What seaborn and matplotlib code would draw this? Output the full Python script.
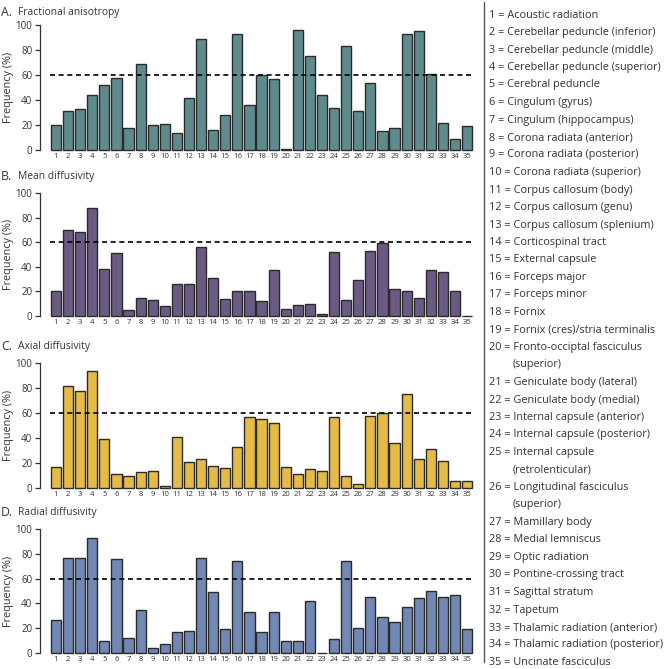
import textwrap
import numpy as np
import pandas as pd
import matplotlib
matplotlib.use("Agg")
import matplotlib.pyplot as plt
from matplotlib.lines import Line2D
import seaborn as sns

# tract names (numbered 1..35)
tracts = [
    "Acoustic radiation", "Cerebellar peduncle (inferior)", "Cerebellar peduncle (middle)",
    "Cerebellar peduncle (superior)", "Cerebral peduncle", "Cingulum (gyrus)",
    "Cingulum (hippocampus)", "Corona radiata (anterior)", "Corona radiata (posterior)",
    "Corona radiata (superior)", "Corpus callosum (body)", "Corpus callosum (genu)",
    "Corpus callosum (splenium)", "Corticospinal tract", "External capsule",
    "Forceps major", "Forceps minor", "Fornix", "Fornix (cres)/stria terminalis",
    "Fronto-occiptal fasciculus (superior)", "Geniculate body (lateral)",
    "Geniculate body (medial)", "Internal capsule (anterior)", "Internal capsule (posterior)",
    "Internal capsule (retrolenticular)", "Longitudinal fasciculus (superior)",
    "Mamillary body", "Medial lemniscus", "Optic radiation", "Pontine-crossing tract",
    "Sagittal stratum", "Tapetum", "Thalamic radiation (anterior)",
    "Thalamic radiation (posterior)", "Uncinate fasciculus",
]
tract_ids = [str(i) for i in range(1, 36)]

fa = [20, 31, 33, 44, 52, 58, 18, 69, 20, 21, 14, 42, 89, 16, 28, 93, 36, 60, 57, 1,
      96, 75, 44, 34, 83, 31, 54, 15, 18, 93, 95, 61, 22, 9, 19]
md = [20, 70, 68, 88, 38, 51, 5, 15, 13, 8, 26, 26, 56, 31, 14, 20, 20, 12, 37, 6,
      9, 10, 2, 52, 13, 29, 53, 59, 22, 20, 15, 37, 36, 20, 0]
ad = [17, 82, 78, 94, 39, 11, 10, 13, 14, 2, 41, 21, 23, 18, 16, 33, 57, 55, 52, 17,
      11, 15, 14, 57, 10, 3, 58, 60, 36, 75, 23, 31, 22, 6, 6]
rd = [27, 77, 77, 93, 10, 76, 12, 35, 4, 7, 17, 18, 77, 49, 19, 74, 33, 17, 33, 10,
      10, 42, 0, 11, 74, 20, 45, 29, 25, 37, 44, 50, 45, 47, 19]

panel_letters = ["A.", "B.", "C.", "D."]
panel_titles = ["Fractional anisotropy", "Mean diffusivity", "Axial diffusivity", "Radial diffusivity"]
panel_values = [fa, md, ad, rd]
panel_colors = ["#5f8a8e", "#6b5a83", "#e6bb45", "#7187b4"]
threshold = 60

sns.set_style("white")
plt.rcParams["font.family"] = ["Open Sans", "DejaVu Sans"]

W, H = 667, 669
fig = plt.figure(figsize=(W / 100, H / 100), dpi=100)

# (top, bottom) pixel rows of each panel's 100..0 range, and title row
panel_rows = [(25, 150), (193, 316), (363, 488), (529, 653)]
title_rows = [12, 177, 347, 513]
ax_left, ax_right = 40, 478
txt_col = "#333333"

for letter, title, vals, color, (top, bot), ty in zip(
        panel_letters, panel_titles, panel_values, panel_colors, panel_rows, title_rows):
    ax = fig.add_axes([ax_left / W, 1 - bot / H, (ax_right - ax_left) / W, (bot - top) / H])
    df = pd.DataFrame({"tract": tract_ids, "freq": vals})
    sns.barplot(data=df, x="tract", y="freq", order=tract_ids, color=color,
                saturation=1, width=0.84, edgecolor="#2b2b2b", linewidth=1.0, ax=ax)
    for p in ax.patches:
        p.set_clip_on(False)
    ax.hlines(threshold, -0.5, len(tract_ids) - 0.5, colors="black", linewidth=1.2,
              linestyles=(0, (3, 2.2)), zorder=3)
    ax.set_xlim(-1.32, 34.9)
    ax.set_ylim(0, 100)
    ax.set_yticks([0, 20, 40, 60, 80, 100])
    sns.despine(ax=ax, bottom=True)
    ax.spines["left"].set_bounds(0, 100)
    ax.spines["left"].set_color(txt_col)
    ax.spines["left"].set_linewidth(0.9)
    ax.tick_params(axis="y", length=3.5, width=0.9, color=txt_col, pad=2,
                   labelsize=7, labelcolor=txt_col, left=True)
    ax.tick_params(axis="x", length=0, pad=2.5, labelsize=5.6, labelcolor=txt_col)
    ax.set_xlabel("")
    ax.set_ylabel("Frequency (%)", fontsize=7.8, color=txt_col)
    ax.yaxis.set_label_coords(-0.06, 0.5)
    fig.text(1 / W, 1 - ty / H, letter, fontsize=8.8, color=txt_col, va="center")
    fig.text(18 / W, 1 - ty / H, title, fontsize=7.4, color=txt_col, va="center")

# key of tract numbers on the right
lines = []
for tid, name in zip(tract_ids, tracts):
    parts = textwrap.wrap(name, 31)
    lines.append((f"{tid} = {parts[0]}", 489))
    for extra in parts[1:]:
        lines.append((extra, 513))
y0, step = 15, 17.5
for i, (txt, x) in enumerate(lines):
    fig.text(x / W, 1 - (y0 + i * step) / H, txt, fontsize=7.8, color=txt_col, va="center")

fig.add_artist(Line2D([484 / W, 484 / W], [1 - 2 / H, 1 - 662 / H],
                      transform=fig.transFigure, color="#555555", linewidth=1.0))

fig.savefig("out.png", dpi=100)
